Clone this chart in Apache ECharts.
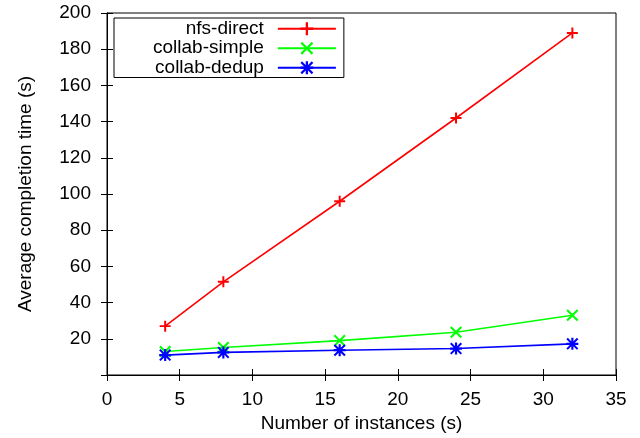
<!DOCTYPE html>
<html>
<head>
<meta charset="utf-8">
<script src="https://cdn.jsdelivr.net/npm/echarts@6/dist/echarts.min.js"></script>
<style>
  html, body { margin: 0; padding: 0; background: #fff; }
  #chart { width: 640px; height: 438px; }
</style>
</head>
<body>
<div id="chart"></div>
<script>
// x values: number of instances
const instances = [4, 8, 16, 24, 32]
// average completion time (s)
const nfsDirect = [27, 51.5, 96, 142, 189]
const collabSimple = [13, 15.2, 19, 23.6, 33]
const collabDedup = [11, 12.5, 13.7, 14.6, 17.2]

// gnuplot-like point shapes
const plusPath = 'path://M4.1,0H5.9V4.1H10V5.9H5.9V10H4.1V5.9H0V4.1H4.1Z'
const crossPath = 'path://M0,1.2L1.2,0L5,3.8L8.8,0L10,1.2L6.2,5L10,8.8L8.8,10L5,6.2L1.2,10L0,8.8L3.8,5Z'
const starPath = plusPath + ' ' + crossPath.replace('path://', '')

const pairs = ys => instances.map((x, i) => [x, ys[i]])

const font = 'Liberation Sans, Arial, sans-serif'
const chart = echarts.init(document.getElementById('chart'))

const mkSeries = (name, ys, color, symbol, size) => ({
  name,
  type: 'line',
  data: pairs(ys),
  symbol,
  symbolSize: size,
  showSymbol: true,
  itemStyle: { color },
  lineStyle: { color, width: 1.6 },
  emphasis: { disabled: true },
  animation: false
})

chart.setOption({
  animation: false,
  grid: { left: 107, right: 24, top: 13, bottom: 60, show: true, borderColor: '#000', borderWidth: 1 },
  legend: {
    orient: 'vertical',
    left: 114,
    top: 18,
    align: 'right',
    itemWidth: 58,
    itemHeight: 16,
    itemGap: 0,
    padding: [1, 7, 0, 39],
    borderColor: '#000',
    borderWidth: 1,
    textStyle: { fontFamily: font, fontSize: 19, color: '#000', lineHeight: 19.5, padding: [0, 9, 0, 0] },
    data: ['nfs-direct', 'collab-simple', 'collab-dedup']
  },
  xAxis: [{
    type: 'value',
    min: 0, max: 35, interval: 5,
    name: 'Number of instances (s)',
    nameLocation: 'middle',
    nameGap: 39,
    nameTextStyle: { fontFamily: font, fontSize: 19, color: '#000' },
    axisLine: { lineStyle: { color: '#000' } },
    axisTick: { inside: true, length: 6, lineStyle: { color: '#000' } },
    axisLabel: { fontFamily: font, fontSize: 19, color: '#000', margin: 15 },
    splitLine: { show: false }
  }, {
    type: 'value',
    position: 'top',
    min: 0, max: 35, interval: 5,
    axisLine: { lineStyle: { color: '#000' } },
    axisTick: { inside: true, length: 6, lineStyle: { color: '#000' } },
    axisLabel: { show: false },
    splitLine: { show: false }
  }],
  yAxis: [{
    type: 'value',
    min: 0, max: 200, interval: 20,
    name: 'Average completion time (s)',
    nameLocation: 'middle',
    nameGap: 72,
    nameTextStyle: { fontFamily: font, fontSize: 19, color: '#000' },
    axisLine: { show: true, lineStyle: { color: '#000' } },
    axisTick: { show: true, inside: true, length: 6, lineStyle: { color: '#000' } },
    axisLabel: { fontFamily: font, fontSize: 19, color: '#000', margin: 16, showMinLabel: false },
    splitLine: { show: false }
  }, {
    type: 'value',
    position: 'right',
    min: 0, max: 200, interval: 20,
    axisLine: { show: true, lineStyle: { color: '#000' } },
    axisTick: { show: true, inside: true, length: 6, lineStyle: { color: '#000' } },
    axisLabel: { show: false },
    splitLine: { show: false }
  }],
  series: [
    mkSeries('nfs-direct', nfsDirect, '#ff0000', plusPath, 11),
    mkSeries('collab-simple', collabSimple, '#00ff00', crossPath, 12),
    mkSeries('collab-dedup', collabDedup, '#0000ff', starPath, 12)
  ]
})
</script>
</body>
</html>
